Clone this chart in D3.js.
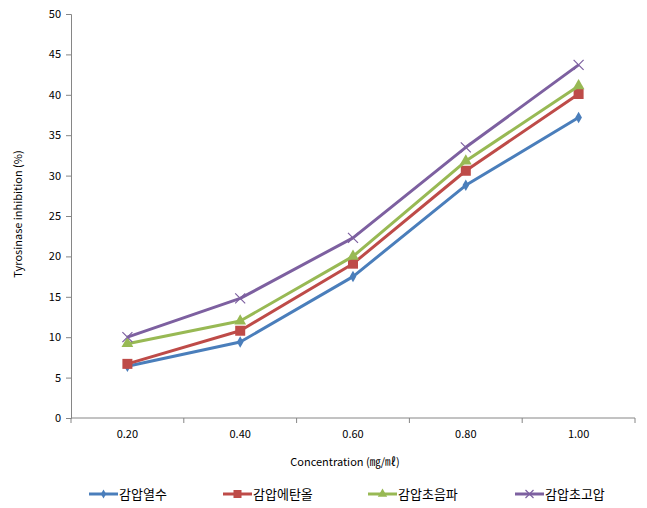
<!DOCTYPE html>
<html>
<head>
<meta charset="utf-8">
<script src="https://cdn.jsdelivr.net/npm/d3@7"></script>
<style>
  body { margin: 0; background: #fff; }
  svg text { font-family: "Noto Sans CJK KR", "Noto Sans", sans-serif; fill: #000; }
</style>
</head>
<body>
<div id="chart"></div>
<script>
// data
var concentrations = ["0.20", "0.40", "0.60", "0.80", "1.00"];
var seriesNames = ["감압열수", "감압에탄올", "감압초음파", "감압초고압"];
var hotWater   = [6.4, 9.4, 17.5, 28.8, 37.2];
var ethanol    = [6.7, 10.8, 19.1, 30.6, 40.1];
var ultrasonic = [9.2, 12.0, 20.0, 31.8, 41.1];
var highPress  = [10.0, 14.8, 22.3, 33.5, 43.7];
var yTicks = [0, 5, 10, 15, 20, 25, 30, 35, 40, 45, 50];

var colors = ["#4A7EBB", "#BE4B48", "#98B954", "#7D60A0"];
var shapes = ["diamond", "square", "triangle", "cross"];
var allSeries = [hotWater, ethanol, ultrasonic, highPress];

var svgWidth = 647, svgHeight = 508;
var margin = { top: 14, right: 12, bottom: 90, left: 71 };
var width = svgWidth - margin.left - margin.right;
var height = svgHeight - margin.top - margin.bottom;

var svg = d3.select("#chart").append("svg")
    .attr("width", svgWidth)
    .attr("height", svgHeight);

var g = svg.append("g").attr("transform", `translate(${margin.left},${margin.top})`);

var xScale = d3.scaleBand().domain(concentrations).range([0, width]);
var yScale = d3.scaleLinear().domain([0, 50]).range([height, 0]);

// y axis
var yAxis = g.append("g").call(d3.axisLeft(yScale).tickValues(yTicks).tickSize(5).tickPadding(5));
yAxis.select(".domain").attr("stroke", "#868686");
yAxis.selectAll(".tick line").attr("stroke", "#868686");
yAxis.selectAll("text").style("font-size", "11px");

// x axis: ticks at band boundaries
var xg = g.append("g").attr("transform", `translate(0,${height})`);
xg.append("line").attr("x1", 0).attr("x2", width).attr("stroke", "#868686");
var bounds = d3.range(concentrations.length + 1).map(i => i * xScale.step());
xg.selectAll(".bt").data(bounds).enter().append("line")
    .attr("x1", d => d).attr("x2", d => d).attr("y1", 0).attr("y2", 5)
    .attr("stroke", "#868686");
xg.selectAll(".lbl").data(concentrations).enter().append("text")
    .attr("x", d => xScale(d) + xScale.bandwidth() / 2)
    .attr("y", 20)
    .attr("text-anchor", "middle")
    .style("font-size", "11px")
    .text(d => d);

// axis titles
svg.append("text")
    .attr("x", 345).attr("y", 466)
    .attr("text-anchor", "middle")
    .style("font-size", "11px")
    .text("Concentration (㎎/㎖)");
svg.append("text")
    .attr("transform", "translate(22,214) rotate(-90)")
    .attr("text-anchor", "middle")
    .style("font-size", "11px")
    .text("Tyrosinase inhibition (%)");

function drawMarker(sel, shape, color, k) {
    k = k || 1;
    if (shape === "diamond") {
        sel.append("path").attr("d", d3.symbol(d3.symbolDiamond, 38 * k * k)()).attr("fill", color);
    } else if (shape === "square") {
        sel.append("rect").attr("x", -5 * k).attr("y", -5 * k).attr("width", 10 * k).attr("height", 10 * k).attr("fill", color);
    } else if (shape === "triangle") {
        sel.append("path").attr("d", d3.symbol(d3.symbolTriangle, 60 * k * k)()).attr("fill", color);
    } else {
        var r = 5 * k;
        sel.append("path").attr("d", `M${-r},${-r}L${r},${r}M${-r},${r}L${r},${-r}`)
            .attr("stroke", color).attr("stroke-width", 1.2).attr("fill", "none");
    }
}

var line = d3.line()
    .x((d, i) => xScale(concentrations[i]) + xScale.bandwidth() / 2)
    .y(d => yScale(d));

allSeries.forEach(function(vals, s) {
    g.append("path")
        .datum(vals)
        .attr("d", line)
        .attr("fill", "none")
        .attr("stroke", colors[s])
        .attr("stroke-width", 3)
        .attr("stroke-linejoin", "round");
    vals.forEach(function(v, i) {
        var m = g.append("g")
            .attr("transform", `translate(${xScale(concentrations[i]) + xScale.bandwidth() / 2},${yScale(v)})`);
        drawMarker(m, shapes[s], colors[s]);
    });
});

// legend
var legendX = [89, 223, 368, 515];
seriesNames.forEach(function(name, s) {
    var lg = svg.append("g").attr("transform", `translate(${legendX[s]},494)`);
    lg.append("line").attr("x1", 0).attr("x2", 29).attr("stroke", colors[s]).attr("stroke-width", 3);
    drawMarker(lg.append("g").attr("transform", "translate(14.5,0)"), shapes[s], colors[s], 0.8);
    lg.append("text").attr("x", 30).attr("y", 5).style("font-size", "13px").text(name);
});
</script>
</body>
</html>
